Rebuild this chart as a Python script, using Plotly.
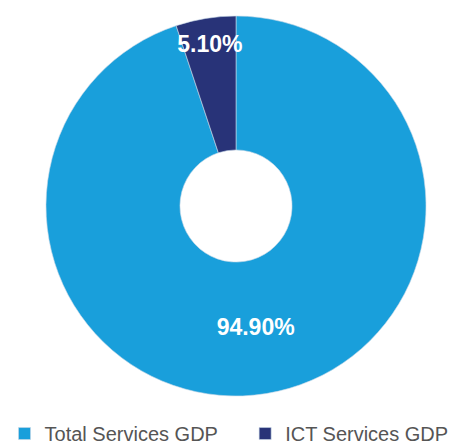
import plotly.graph_objects as go

labels = ["Total Services GDP\u00a0\u00a0\u00a0\u00a0", "ICT Services GDP"]
shares = [94.90, 5.10]
colors = ["#199fdb", "#283378"]

fig = go.Figure(go.Pie(
    labels=labels,
    values=shares,
    hole=0.295,
    sort=False,
    direction="clockwise",
    rotation=0,
    domain=dict(x=[38 / 464, 418 / 464], y=[18 / 406, 398 / 406]),
    marker=dict(colors=colors, line=dict(color="#c8d8e8", width=0.6)),
    texttemplate="%{value:.2f}%",
    textposition="inside",
    insidetextorientation="horizontal",
    textfont=dict(family="Liberation Sans, Arial, sans-serif", size=23, color="white", weight="bold"),
    hoverinfo="label+percent",
))

fig.update_layout(
    width=464, height=445,
    margin=dict(l=0, r=0, t=0, b=39, autoexpand=False),
    paper_bgcolor="white",
    uniformtext=dict(minsize=23, mode="show"),
    showlegend=True,
    legend=dict(
        orientation="h",
        x=-0.0075, xanchor="left",
        y=-0.0001, yanchor="top",
        font=dict(family="Liberation Sans, Arial, sans-serif", size=20, color="#555555"),
        itemwidth=30,
    ),
)

fig.write_html("out.html")
